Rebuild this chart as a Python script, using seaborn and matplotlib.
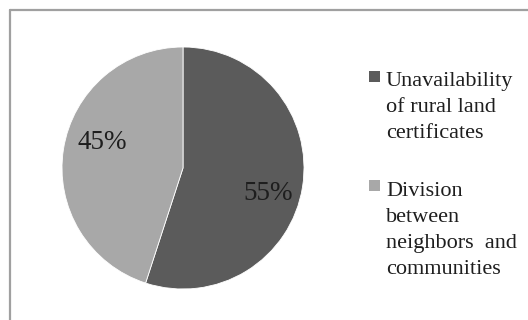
import matplotlib
matplotlib.use("Agg")
import matplotlib.pyplot as plt
from matplotlib.patches import Rectangle
from matplotlib.lines import Line2D
import seaborn as sns

sns.set_theme(style="white")
plt.rcParams["font.family"] = ["Liberation Serif", "DejaVu Serif"]

categories = ["Unavailability\nof rural land\ncertificates",
              "Division\nbetween\nneighbors  and\ncommunities"]
shares = [55, 45]
colors = ["#5b5b5b", "#a8a8a8"]
text_color = "#1e1e1e"

W, H = 528, 320
fig = plt.figure(figsize=(W / 100, H / 100), dpi=100)
fig.patch.set_facecolor("white")

def fx(px):
    return px / W

def fy(py):
    return 1 - py / H

# chart frame: top and left edges
fig.add_artist(Line2D([fx(9.5), fx(W)], [fy(9.5), fy(9.5)],
                      transform=fig.transFigure, color="#a0a0a0", lw=1.6))
fig.add_artist(Line2D([fx(9.5), fx(9.5)], [fy(9.5), fy(H)],
                      transform=fig.transFigure, color="#a0a0a0", lw=1.6))

# pie
cx, cy, r = 183, 168, 121
ax = fig.add_axes([fx(cx - r), fy(cy + r), fx(2 * r), 2 * r / H])
wedges, texts, autotexts = ax.pie(
    shares, colors=colors, startangle=90, counterclock=False,
    autopct="%d%%", pctdistance=0.72,
    wedgeprops=dict(linewidth=0.6, edgecolor="white"),
    textprops=dict(fontsize=19.5, color=text_color))
ax.set_xlim(-1, 1)
ax.set_ylim(-1, 1)
ax.set_aspect("equal")
ax.axis("off")

# percentage label positions (in pie radius units)
autotexts[0].set_position(((268 - cx) / r, (cy - 194) / r))
autotexts[1].set_position(((102 - cx) / r, (cy - 143) / r))

# legend: square swatch beside the first line of each label
# (first-line baseline, last-line baseline) in pixels from the top
baselines = [(86, 138), (195, 274)]
for label, color, (first, last) in zip(categories, colors, baselines):
    fig.add_artist(Rectangle((fx(369), fy(first - 4)), fx(11), 11 / H,
                             transform=fig.transFigure, facecolor=color,
                             edgecolor="none"))
    fig.text(fx(386), fy(last), label, ha="left", va="baseline",
             fontsize=16, color=text_color, linespacing=1.5)

fig.savefig("out.png", dpi=100)
